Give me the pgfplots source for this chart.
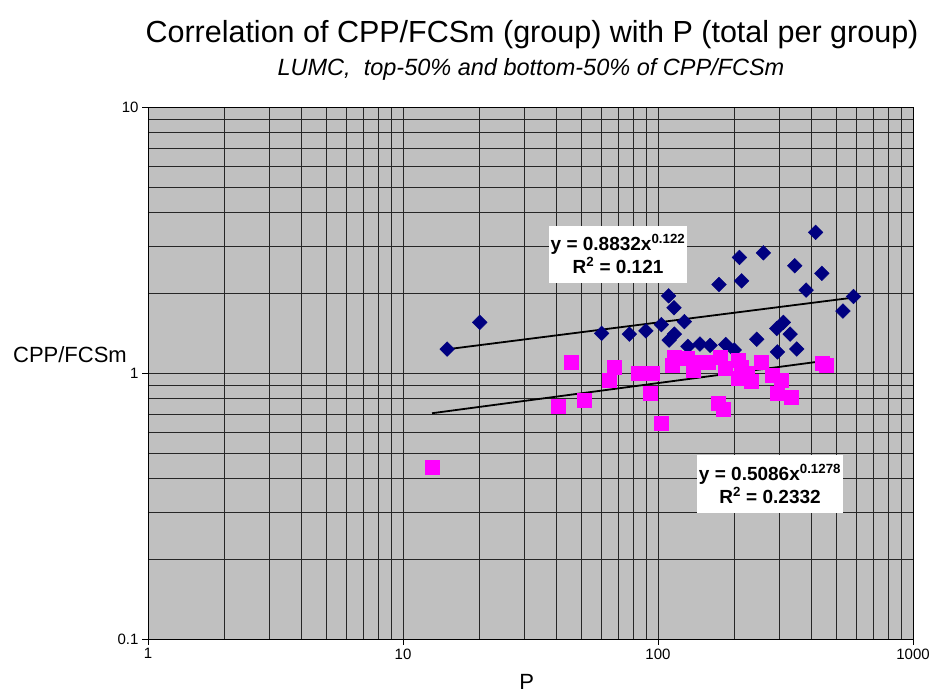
\documentclass[border=0pt]{standalone}
\usepackage{fontspec}
\setmainfont{Liberation Sans}
\usepackage{pgfplots}
\pgfplotsset{compat=1.18}
\definecolor{plotgray}{HTML}{C0C0C0}
\definecolor{topblue}{HTML}{000080}
\definecolor{botpink}{HTML}{FF00FF}

\begin{document}
\begin{tikzpicture}[x=1pt,y=1pt]
\useasboundingbox (0,0) rectangle (929,693);
\begin{axis}[
  at={(148pt,54pt)}, anchor=south west,
  scale only axis,
  width=765pt, height=532pt,
  xmode=log, ymode=log,
  xmin=1, xmax=1000, ymin=0.1, ymax=10,
  log ticks with fixed point,
  /pgf/number format/assume math mode=true,
  xtick={1,10,100,1000}, ytick={0.1,1,10},
  xticklabels={1,10,100,1000}, yticklabels={0.1,1,10},
  tick label style={font=\fontsize{15}{17}\selectfont},
  xtick pos=left, ytick pos=left,
  tick align=outside,
  major tick length=6pt, minor tick length=0pt,
  axis background/.style={fill=plotgray},
  grid=both,
  major grid style={black!85, line width=0.9pt},
  minor grid style={black!85, line width=0.8pt},
  axis line style={black, line width=0.9pt},
  tick style={black, line width=0.9pt},
  xlabel={P},
  ylabel={CPP/FCSm},
  label style={font=\fontsize{22}{24}\selectfont},
  xlabel style={at={(rel axis cs:0.495,-0.081)}, anchor=center},
  ylabel style={rotate=-90, at={(rel axis cs:-0.102,0.534)}, anchor=center},
]
\addplot[only marks, mark=square*, mark size=5.2pt, mark options={rotate=45, fill=topblue, draw=topblue}] coordinates {
  (14.9,1.23) (20,1.55) (60.1,1.41) (77.2,1.40) (89.7,1.44) (103,1.52)
  (110,1.95) (115.5,1.76) (127,1.56) (116,1.40) (110.6,1.33) (131,1.26)
  (146,1.285) (160,1.27) (184.5,1.28) (199,1.22) (173.5,2.15) (208.7,2.72)
  (212.8,2.22) (259,2.83) (244,1.34) (294,1.20) (292,1.47) (310,1.55)
  (330,1.40) (350,1.23) (344,2.53) (381,2.05) (415,3.38) (439,2.37)
  (531,1.71) (584,1.94)
};
\addplot[only marks, mark=square*, mark size=7pt, mark options={fill=botpink, draw=botpink}] coordinates {
  (12.96,0.443) (40.6,0.751) (45.7,1.097) (51.4,0.789) (64.4,0.936)
  (67.4,1.047) (83.7,1.0) (93,0.843) (94.5,1.0) (102.8,0.65) (114,1.066)
  (115.8,1.15) (122.6,1.135) (130,1.14) (137.4,1.026) (141.6,1.10)
  (158,1.094) (172,0.773) (175,1.15) (180,0.73) (183,1.04) (205.6,1.12)
  (205.6,0.955) (212,1.056) (223,1.0) (233,0.93) (254,1.094) (280,0.98)
  (294,0.839) (303,0.94) (334,0.808) (439,1.087) (457,1.066)
};
% power trendlines (straight on log-log)
\addplot[black, line width=1.8pt] coordinates {(15,1.229) (584,1.921)};
\addplot[black, line width=1.8pt] coordinates {(13,0.706) (457,1.113)};
\node[fill=white, inner sep=1pt, minimum width=138pt, minimum height=57pt, align=center,
      font=\fontsize{19}{23}\selectfont\bfseries]
  at (axis cs:69.7,2.80) {y = 0.8832x\textsuperscript{0.122}\\R\textsuperscript{2} = 0.121};
\node[fill=white, inner sep=1pt, minimum width=146pt, minimum height=58pt, align=center,
      font=\fontsize{19}{23}\selectfont\bfseries]
  at (axis cs:275,0.383) {y = 0.5086x\textsuperscript{0.1278}\\R\textsuperscript{2} = 0.2332};
\end{axis}
\node[font=\fontsize{30.5}{33}\selectfont] at (532,658) {Correlation of CPP/FCSm (group) with P (total per group)};
\node[font=\fontsize{23.5}{26}\selectfont\itshape] at (531,624) {LUMC,\ \ top-50\% and bottom-50\% of CPP/FCSm};
\end{tikzpicture}
\end{document}
